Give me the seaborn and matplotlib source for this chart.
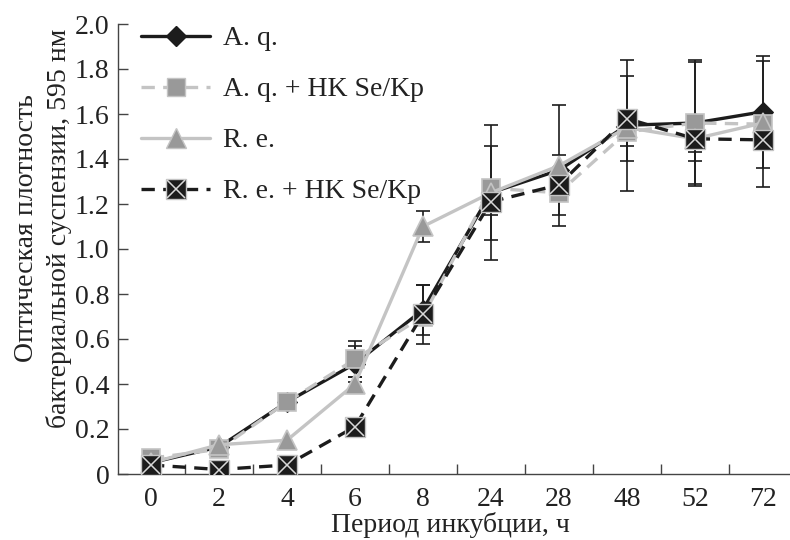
import matplotlib
matplotlib.use("Agg")
import matplotlib.pyplot as plt
from matplotlib.lines import Line2D
from matplotlib.legend_handler import HandlerTuple
import seaborn as sns
import numpy as np
import pandas as pd

# ---- data ----
hours = ["0", "2", "4", "6", "8", "24", "28", "48", "52", "72"]
aq = [0.05, 0.12, 0.32, 0.49, 0.73, 1.25, 1.35, 1.55, 1.56, 1.61]
aq_err = [0, 0, 0, 0.08, 0.11, 0.30, 0, 0.29, 0.27, 0.25]
aq_hk = [0.07, 0.11, 0.32, 0.51, 0.70, 1.27, 1.25, 1.52, 1.56, 1.555]
aq_hk_err = [0, 0, 0, 0.08, 0, 0, 0, 0.06, 0.28, 0.28]
re = [0.05, 0.13, 0.15, 0.40, 1.10, 1.25, 1.37, 1.54, 1.49, 1.56]
re_err = [0, 0, 0, 0.03, 0.07, 0.21, 0.27, 0, 0.06, 0]
re_hk = [0.04, 0.02, 0.04, 0.21, 0.71, 1.21, 1.285, 1.58, 1.49, 1.485]
re_hk_err = [0, 0, 0, 0, 0.13, 0.06, 0.135, 0.19, 0.10, 0]

labels = ["A. q.", "A. q. + HK Se/Kp", "R. e.", "R. e. + HK Se/Kp"]
yticks = [0, 0.2, 0.4, 0.6, 0.8, 1.0, 1.2, 1.4, 1.6, 1.8, 2.0]
ytick_labels = ["0", "0.2", "0.4", "0.6", "0.8", "1.0", "1.2", "1.4", "1.6", "1.8", "2.0"]

sns.set_style("ticks")
plt.rcParams["font.family"] = ["Liberation Serif", "DejaVu Serif"]
FS = 20
plt.rcParams["font.size"] = FS

BLACK = "#1c1c1c"
LGRAY = "#c4c4c4"
MGRAY = "#999999"
TXT = "#222222"

fig = plt.figure(figsize=(7.9, 5.4), dpi=100)
ax = fig.add_axes([118 / 790, 66 / 540, 672 / 790, 450 / 540])

idx = np.arange(len(hours))
df = pd.DataFrame({"x": idx, "aq": aq, "aq_hk": aq_hk, "re": re, "re_hk": re_hk})

# error bars (behind markers)
for vals, errs in [(aq, aq_err), (aq_hk, aq_hk_err), (re, re_err), (re_hk, re_hk_err)]:
    e = np.array(errs, dtype=float)
    m = e > 0
    ax.errorbar(idx[m], np.array(vals)[m], yerr=e[m], fmt="none", ecolor=BLACK,
                elinewidth=1.2, capsize=4.8, capthick=1.2, zorder=1)

lw = 2.4
dash = (0, (4, 2.5))
sns.lineplot(data=df, x="x", y="aq", ax=ax, color=BLACK, linewidth=lw,
             marker="D", markersize=10, markerfacecolor=BLACK, markeredgecolor=BLACK,
             zorder=3, legend=False)
sns.lineplot(data=df, x="x", y="aq_hk", ax=ax, color=LGRAY, linewidth=lw,
             linestyle=dash, marker="s", markersize=13,
             markerfacecolor=MGRAY, markeredgecolor=LGRAY, markeredgewidth=1.2,
             zorder=4, legend=False)
sns.lineplot(data=df, x="x", y="re", ax=ax, color=LGRAY, linewidth=lw,
             marker="^", markersize=14, markerfacecolor=MGRAY, markeredgecolor=LGRAY,
             markeredgewidth=1.2, zorder=5, legend=False)
sns.lineplot(data=df, x="x", y="re_hk", ax=ax, color=BLACK, linewidth=lw,
             linestyle=dash, marker="s", markersize=14,
             markerfacecolor=BLACK, markeredgecolor=LGRAY, markeredgewidth=1.0,
             zorder=6, legend=False)
ax.plot(idx, re_hk, linestyle="none", marker="x", markersize=13, markeredgecolor="#d8d8d8",
        markeredgewidth=1.1, zorder=7)

# axes
ax.set_xlim(-0.485, 9.40)
ax.set_ylim(0, 2.0)
ax.set_xticks(idx)
ax.set_xticklabels(hours)
ax.set_xticks(idx[:-1] + 0.5, minor=True)
ax.tick_params(axis="x", which="major", length=0, pad=9, labelsize=FS, colors=TXT)
ax.tick_params(axis="x", which="minor", direction="in", length=7, width=1.0, color="#444444")
ax.set_yticks(yticks)
ax.set_yticklabels(ytick_labels)
ax.tick_params(axis="y", direction="in", length=7, width=1.0, color="#444444",
               labelsize=FS, pad=6, labelcolor=TXT)
for s in ["top", "right"]:
    ax.spines[s].set_visible(False)
for s in ["left", "bottom"]:
    ax.spines[s].set_color("#444444")
    ax.spines[s].set_linewidth(1.0)

ax.set_xlabel("Период инкубции, ч", fontsize=FS, color=TXT)
ax.xaxis.set_label_coords(0.494, -0.085)
ax.set_ylabel("Оптическая плотность\nбактериальной суспензии, 595 нм", fontsize=FS,
              color=TXT, linespacing=1.35)
ax.yaxis.set_label_coords(-0.068, 0.547)

# legend
h1 = Line2D([], [], color=BLACK, linewidth=lw, marker="D", markersize=10,
            markerfacecolor=BLACK, markeredgecolor=BLACK)
h2 = Line2D([], [], color=LGRAY, linewidth=lw, linestyle=dash, marker="s",
            markersize=13, markerfacecolor=MGRAY, markeredgecolor=LGRAY)
h3 = Line2D([], [], color=LGRAY, linewidth=lw, marker="^", markersize=14,
            markerfacecolor=MGRAY, markeredgecolor=LGRAY)
h4a = Line2D([], [], color=BLACK, linewidth=lw, linestyle=dash, marker="s",
             markersize=14, markerfacecolor=BLACK, markeredgecolor=LGRAY)
h4b = Line2D([], [], linestyle="none", marker="x", markersize=13,
             markeredgecolor="#d8d8d8", markeredgewidth=1.1)
leg = ax.legend([h1, h2, h3, (h4a, h4b)], labels, loc="upper left",
                bbox_to_anchor=(141 / 790, 1 - 26 / 540), bbox_transform=fig.transFigure,
                frameon=False, fontsize=FS, handlelength=2.5, handletextpad=0.45,
                labelspacing=0.92, borderpad=0, borderaxespad=0,
                handler_map={tuple: HandlerTuple(ndivide=1)})
for t in leg.get_texts():
    t.set_color(TXT)

fig.savefig("out.png", dpi=100)
